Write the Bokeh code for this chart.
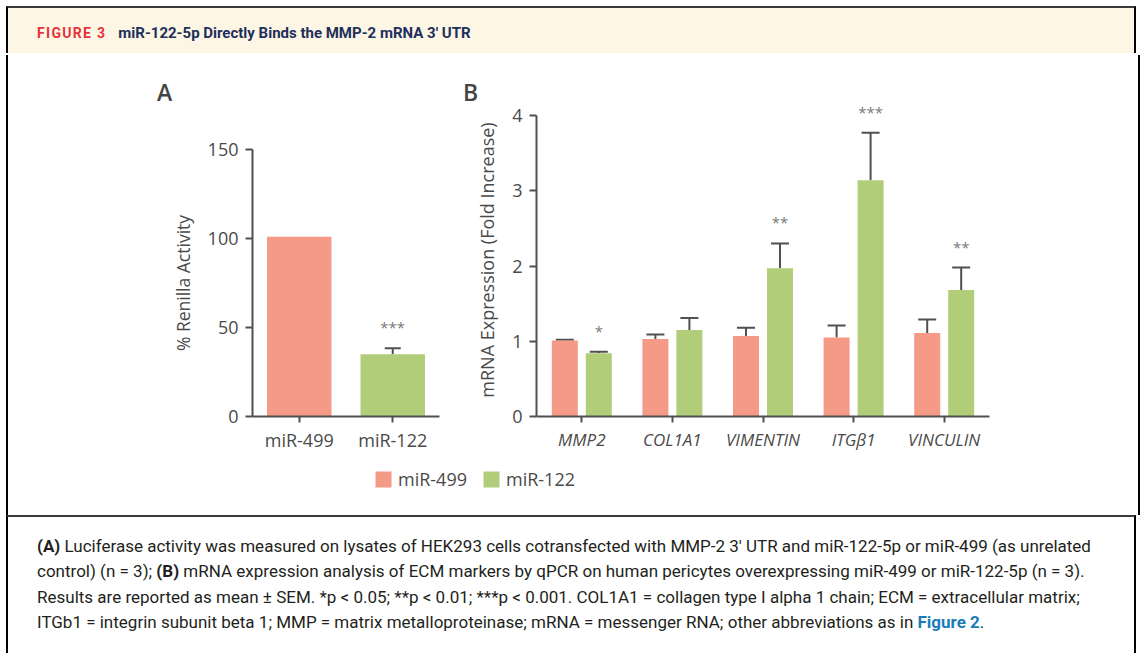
from bokeh.plotting import figure
from bokeh.models import (ColumnDataSource, FactorRange, Range1d, LabelSet,
                          Legend, LegendItem, Div)
from bokeh.layouts import row, column
from bokeh.transform import dodge, factor_cmap
from bokeh.core.properties import value
from bokeh.embed import file_html
from bokeh.resources import INLINE

# ---------------- data ----------------
series = ["miR-499", "miR-122"]

# Panel A: % Renilla activity
a_groups = ["miR-499", "miR-122"]
a_mean = [101, 35]
a_sem = [0, 3.3]
a_sig = ["", "***"]
a_ticks = [0, 50, 100, 150]

# Panel B: mRNA expression (fold increase)
genes = ["MMP2", "COL1A1", "VIMENTIN", "ITGβ1", "VINCULIN"]
b_mir499_mean = [1.01, 1.03, 1.07, 1.05, 1.11]
b_mir499_sem = [0.01, 0.06, 0.11, 0.16, 0.18]
b_mir122_mean = [0.84, 1.15, 1.97, 3.14, 1.68]
b_mir122_sem = [0.02, 0.16, 0.33, 0.63, 0.30]
b_mir122_sig = ["*", "", "**", "***", "**"]
b_ticks = [0, 1, 2, 3, 4]

# ---------------- style ----------------
RED = "#F59A86"
GREEN = "#B2CD7A"
AX = "#505050"
TXT = "#4A4A4A"
STAR = "#7A7A7A"
FONT = "Open Sans"


def style_axes(p, xlab_size, ylab_size, italic_x=False):
    p.xgrid.visible = False
    p.ygrid.visible = False
    p.outline_line_color = None
    for ax in p.axis:
        ax.axis_line_color = AX
        ax.axis_line_width = 2
        ax.major_tick_line_color = AX
        ax.major_tick_line_width = 2
        ax.major_tick_out = 7
        ax.major_tick_in = 0
        ax.minor_tick_out = 0
        ax.minor_tick_in = 0
        ax.major_label_text_font = FONT
        ax.major_label_text_color = TXT
        ax.axis_label_text_font = FONT
        ax.axis_label_text_color = TXT
        ax.axis_label_text_font_style = "normal"
    p.xaxis.major_label_text_font_size = xlab_size
    p.yaxis.major_label_text_font_size = "18px"
    p.yaxis.axis_label_text_font_size = ylab_size
    p.xaxis.major_tick_out = 6
    p.xaxis.major_label_standoff = 5
    p.yaxis.major_label_standoff = 7
    p.yaxis.axis_label_standoff = 10
    if italic_x:
        p.xaxis.major_label_text_font_style = "italic"


# ---------------- panel A ----------------
pa = figure(width=462, height=354, x_range=FactorRange(*a_groups), y_range=Range1d(0, 150),
            min_border_left=244, min_border_right=31, min_border_top=48, min_border_bottom=39,
            toolbar_location=None, output_backend="svg")
pa.frame_align = False
src_a = ColumnDataSource(dict(group=a_groups, mean=a_mean,
                              upper=[m + s for m, s in zip(a_mean, a_sem)], sig=a_sig))
idx = [i for i, s in enumerate(a_sem) if s > 0]
src_ae = ColumnDataSource(dict(group=[a_groups[i] for i in idx],
                               mean=[a_mean[i] for i in idx],
                               upper=[a_mean[i] + a_sem[i] for i in idx]))
pa.segment(x0="group", y0="mean", x1="group", y1="upper", source=src_ae,
           line_color=AX, line_width=2)
pa.scatter(x="group", y="upper", marker="dash", size=16, source=src_ae,
           line_color=AX, line_width=2)
pa.vbar(x="group", top="mean", width=0.69, source=src_a, line_color=None,
        fill_color=factor_cmap("group", palette=[RED, GREEN], factors=series))
pa.add_layout(LabelSet(x="group", y="upper", text="sig", source=src_a, y_offset=21,
                       text_align="center", text_baseline="middle",
                       text_font=value(FONT), text_font_size="15px", text_color=STAR))
style_axes(pa, "18px", "17.5px")
pa.yaxis.ticker = a_ticks
pa.yaxis.axis_label = "% Renilla Activity"

# ---------------- panel B ----------------
OFF = 0.1876
pb = figure(width=668, height=354, x_range=FactorRange(*genes), y_range=Range1d(0, 4.16),
            min_border_left=66, min_border_right=149, min_border_top=2, min_border_bottom=39,
            toolbar_location=None, output_backend="svg")
pb.frame_align = False
src_499 = ColumnDataSource(dict(gene=genes, mean=b_mir499_mean,
                                upper=[m + s for m, s in zip(b_mir499_mean, b_mir499_sem)]))
src_122 = ColumnDataSource(dict(gene=genes, mean=b_mir122_mean,
                                upper=[m + s for m, s in zip(b_mir122_mean, b_mir122_sem)],
                                sig=b_mir122_sig))
for src, off, col in ((src_499, -OFF, RED), (src_122, OFF, GREEN)):
    xd = dodge("gene", off, range=pb.x_range)
    pb.segment(x0=xd, y0="mean", x1=xd, y1="upper", source=src, line_color=AX, line_width=2)
    pb.scatter(x=xd, y="upper", marker="dash", size=18, source=src, line_color=AX, line_width=2)
    pb.vbar(x=xd, top="mean", width=0.287, source=src, fill_color=col, line_color=None)
pb.add_layout(LabelSet(x=dodge("gene", OFF, range=pb.x_range), y="upper", text="sig",
                       source=src_122, y_offset=21, text_align="center", text_baseline="middle",
                       text_font=value(FONT), text_font_size="15px", text_color=STAR))
style_axes(pb, "17px", "18px", italic_x=True)
pb.yaxis.ticker = b_ticks
pb.yaxis.bounds = (b_ticks[0], b_ticks[-1])
pb.yaxis.axis_label = "mRNA Expression (Fold Increase)"

# ---------------- legend row ----------------
lf = figure(width=1130, height=60, x_range=Range1d(0, 1), y_range=Range1d(0, 1),
            min_border=0, toolbar_location=None, output_backend="svg",
            x_axis_type=None, y_axis_type=None)
lf.outline_line_color = None
lf.grid.visible = False
# legend proxies, placed outside the visible range
r1 = lf.vbar(x=[-5], top=[-5], width=0.1, fill_color=RED, line_color=None)
r2 = lf.vbar(x=[-5], top=[-5], width=0.1, fill_color=GREEN, line_color=None)
leg = Legend(items=[LegendItem(label=series[0], renderers=[r1]),
                    LegendItem(label=series[1], renderers=[r2])],
             orientation="horizontal", location=(365, 24), padding=0, margin=0,
             border_line_color=None, background_fill_alpha=0,
             glyph_width=20, glyph_height=20, label_standoff=5, spacing=14,
             label_text_font=FONT, label_text_font_size="18px", label_text_color=TXT)
lf.add_layout(leg)

# ---------------- panel letters ----------------
LETTER_STYLE = ("position:absolute;top:26px;font-family:Open Sans,sans-serif;font-size:23px;"
                "font-weight:600;line-height:23px;color:#444;")
letters_html = (
    '<div style="position:relative;width:1130px;height:46px;">'
    f'<span style="{LETTER_STYLE}left:149px;">A</span>'
    f'<span style="{LETTER_STYLE}left:455px;">B</span></div>'
)
letters = Div(text=letters_html, width=1130, height=46, margin=0)

# ---------------- frame, header, caption ----------------
header_html = (
    '<div style="position:relative;width:1142px;height:55px;overflow:hidden;">'
    '<div style="position:absolute;left:6px;top:6px;width:1130px;height:47px;'
    'border-top:2px solid #3a3a3a;border-left:2px solid #000;border-right:2px solid #000;'
    'background:#FDF6E4;"></div>'
    '<div style="position:absolute;left:37px;top:26px;font-family:Roboto;font-weight:700;'
    'font-size:14px;line-height:14px;white-space:nowrap;">'
    '<span style="color:#E4353B;letter-spacing:1.3px;">FIGURE 3</span>'
    '<span style="color:#1E2F5C;margin-left:12px;font-size:15px;">miR-122-5p Directly Binds the MMP-2 mRNA 3\u2032 UTR</span>'
    '</div></div>'
)
header = Div(text=header_html, width=1142, height=55, margin=0)

strip_l = Div(text='<div style="margin-left:6px;width:2px;height:460px;background:#000;"></div>',
              width=8, height=460, margin=0)
strip_r = Div(text='<div style="width:2px;height:460px;background:#000;"></div>',
              width=4, height=460, margin=0)

cap_lines = [
    '<b>(A)</b> Luciferase activity was measured on lysates of HEK293 cells cotransfected with '
    'MMP-2 3\u2032 UTR and miR-122-5p or miR-499 (as unrelated',
    'control) (n = 3); <b>(B)</b> mRNA expression analysis of ECM markers by qPCR on human pericytes '
    'overexpressing miR-499 or miR-122-5p (n = 3).',
    'Results are reported as mean \u00b1 SEM. *p &lt; 0.05; **p &lt; 0.01; ***p &lt; 0.001. '
    'COL1A1 = collagen type I alpha 1 chain; ECM = extracellular matrix;',
    'ITGb1 = integrin subunit beta 1; MMP = matrix metalloproteinase; mRNA = messenger RNA; '
    'other abbreviations as in <b style="color:#1A7DB8;">Figure 2</b>.',
]
caption_html = (
    '<div style="position:relative;width:1142px;height:144px;overflow:hidden;">'
    '<div style="position:absolute;left:6px;top:0px;width:1130px;height:138px;'
    'border-top:2px solid #3a3a3a;border-left:2px solid #000;border-right:2px solid #000;"></div>'
    '<div style="position:absolute;left:37px;top:19px;font-family:Roboto;font-size:17px;'
    'line-height:25.3px;color:#231F20;white-space:nowrap;">'
    + '<br>'.join(cap_lines) +
    '</div></div>'
)
caption = Div(text=caption_html, width=1142, height=144, margin=0)

middle = row(strip_l, column(letters, row(pa, pb), lf), strip_r)
layout = column(header, middle, caption)

open("out.html", "w").write(file_html(layout, INLINE))
